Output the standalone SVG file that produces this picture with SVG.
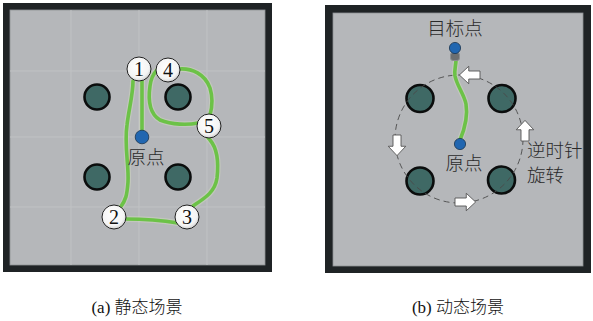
<svg xmlns="http://www.w3.org/2000/svg" width="593" height="321" viewBox="0 0 593 321">
  <style>
    .frame { fill: #1f2325; }
    .floor { fill: #b5b7ba; stroke: #8e9194; stroke-width: 0.8; }
    .grid { stroke: #c0c2c4; stroke-width: 1; fill: none; }
    .obst { fill: #3f6965; stroke: #0b0d0d; stroke-width: 2.6; }
    .path { fill: none; stroke: #6cc247; stroke-width: 3.6; stroke-linecap: round; stroke-linejoin: round; }
    .halo { fill: none; stroke: #cfd8c0; stroke-width: 6; stroke-linecap: round; stroke-linejoin: round; opacity: 0.5; }
    .dot { fill: #2166b0; stroke: #1a3550; stroke-width: 0.8; }
    .wp { fill: url(#wpFill); stroke: #222; stroke-width: 1; }
    .wpnum { font-family: "Liberation Serif", serif; font-size: 20px; fill: #111; text-anchor: middle; }
    .lbl { font-family: "Noto Sans CJK SC", sans-serif; font-size: 18.5px; font-weight: 300; fill: #2a2a2a; }
    .cap { font-family: "Liberation Serif", "Noto Sans CJK SC", serif; font-size: 17px; font-weight: 300; fill: #111; text-anchor: middle; }
    .orbit { fill: none; stroke: #4a4a4a; stroke-width: 0.9; stroke-dasharray: 6 4; }
    .arrow { fill: #ffffff; stroke: #505050; stroke-width: 0.7; stroke-linejoin: round; }
  </style>
  <defs>
    <radialGradient id="wpFill" cx="0.45" cy="0.4" r="0.65">
      <stop offset="0" stop-color="#ffffff"/>
      <stop offset="0.7" stop-color="#f4f4f4"/>
      <stop offset="1" stop-color="#c8c8c8"/>
    </radialGradient>
    <!-- block arrow pointing along +x, centred on the origin -->
    <path id="blockArrow" d="M-8,-3.2 L1,-3.2 L1,-7 L8.5,0 L1,7 L1,3.2 L-8,3.2 Z"/>
  </defs>

  <!-- ===== (a) static scene ===== -->
  <g id="panel-a">
    <rect class="frame" x="3" y="3" width="269" height="269"/>
    <rect class="floor" x="10" y="10" width="255" height="255"/>
    <g class="grid">
      <line x1="71" y1="10" x2="71" y2="265"/>
      <line x1="139" y1="10" x2="139" y2="265"/>
      <line x1="207" y1="10" x2="207" y2="265"/>
      <line x1="10" y1="71" x2="265" y2="71"/>
      <line x1="10" y1="137" x2="265" y2="137"/>
      <line x1="10" y1="207" x2="265" y2="207"/>
    </g>
  </g>
  <g id="obstacles-a">
    <circle class="obst" cx="97" cy="97" r="12.5"/>
    <circle class="obst" cx="178" cy="97" r="12.5"/>
    <circle class="obst" cx="97" cy="177" r="12.5"/>
    <circle class="obst" cx="178" cy="177" r="12.5"/>
  </g>
  <g id="connectors-a">
    <path class="halo" d="M142,134 L142,80"/>
    <path class="path" d="M142,134 L142,80"/>
    <path class="halo" d="M133,81 C133,95 129,108 127,125 C124,145 129,165 128,182 C127,195 126,200 120,208"/>
    <path class="path" d="M133,81 C133,95 129,108 127,125 C124,145 129,165 128,182 C127,195 126,200 120,208"/>
    <path class="halo" d="M125,219 C145,219 160,220 178,223"/>
    <path class="path" d="M125,219 C145,219 160,220 178,223"/>
    <path class="halo" d="M193,206 C205,198 215,192 217,178 C219,160 217,148 210,140 C206,135 203,132 200,130"/>
    <path class="path" d="M193,206 C205,198 215,192 217,178 C219,160 217,148 210,140 C206,135 203,132 200,130"/>
    <path class="halo" d="M198,123 C188,125 172,125 160,120 C150,114 148,100 150,86 C151,78 154,73 157,70"/>
    <path class="path" d="M198,123 C188,125 172,125 160,120 C150,114 148,100 150,86 C151,78 154,73 157,70"/>
    <path class="halo" d="M179,69 C192,68 205,74 210,88 C213,98 212,108 210,115"/>
    <path class="path" d="M179,69 C192,68 205,74 210,88 C213,98 212,108 210,115"/>
  </g>
  <g id="origin-a">
    <circle class="dot" cx="142" cy="137" r="6.8"/>
    <text class="lbl" x="146" y="164" text-anchor="middle">原点</text>
  </g>
  <g id="wp-1"><circle class="wp" cx="139" cy="69" r="12"/><text class="wpnum" x="139" y="76">1</text></g>
  <g id="wp-4"><circle class="wp" cx="168" cy="70" r="12"/><text class="wpnum" x="168" y="77">4</text></g>
  <g id="wp-5"><circle class="wp" cx="209" cy="126" r="12"/><text class="wpnum" x="209" y="133">5</text></g>
  <g id="wp-2"><circle class="wp" cx="114" cy="217" r="12"/><text class="wpnum" x="114" y="224">2</text></g>
  <g id="wp-3"><circle class="wp" cx="187" cy="217" r="12"/><text class="wpnum" x="187" y="224">3</text></g>

  <!-- ===== (b) dynamic scene ===== -->
  <g id="panel-b">
    <rect class="frame" x="325" y="5" width="266" height="268"/>
    <rect class="floor" x="333" y="13" width="250" height="253"/>
  </g>
  <g id="obstacles-b">
    <circle class="obst" cx="420" cy="98.5" r="13.5"/>
    <circle class="obst" cx="502" cy="98.5" r="13.5"/>
    <circle class="obst" cx="420" cy="181" r="13.5"/>
    <circle class="obst" cx="501.5" cy="180" r="13.5"/>
  </g>
  <g id="connectors-b">
    <circle class="orbit" cx="459" cy="139" r="64"/>
    <use href="#blockArrow" class="arrow" transform="translate(470,75) rotate(180) scale(1.25)"/>
    <use href="#blockArrow" class="arrow" transform="translate(525,131) rotate(-90) scale(1.25)"/>
    <use href="#blockArrow" class="arrow" transform="translate(465,202) scale(1.25)"/>
    <use href="#blockArrow" class="arrow" transform="translate(397,145) rotate(90) scale(1.25)"/>
    <path class="halo" d="M460,140 C465,128 468,116 466,104 C464,94 457,86 455,76 C454,70 456,65 456,60"/>
    <path class="path" d="M460,140 C465,128 468,116 466,104 C464,94 457,86 455,76 C454,70 456,65 456,60"/>
  </g>
  <g id="goal-b">
    <rect x="450.5" y="52.5" width="9" height="8" rx="2.5" fill="#6d6f70" stroke="#8c8e90" stroke-width="1"/>
    <circle class="dot" cx="455" cy="48" r="5.6"/>
    <text class="lbl" x="455" y="35" text-anchor="middle">目标点</text>
  </g>
  <g id="origin-b">
    <circle class="dot" cx="460" cy="144" r="5.6"/>
    <text class="lbl" x="464" y="170" text-anchor="middle">原点</text>
  </g>
  <g id="rotation-label">
    <text class="lbl" x="527" y="157">逆时针</text>
    <text class="lbl" x="527" y="182">旋转</text>
  </g>

  <!-- captions -->
  <text class="cap" x="137" y="313">(a) 静态场景</text>
  <text class="cap" x="458" y="313">(b) 动态场景</text>
</svg>
